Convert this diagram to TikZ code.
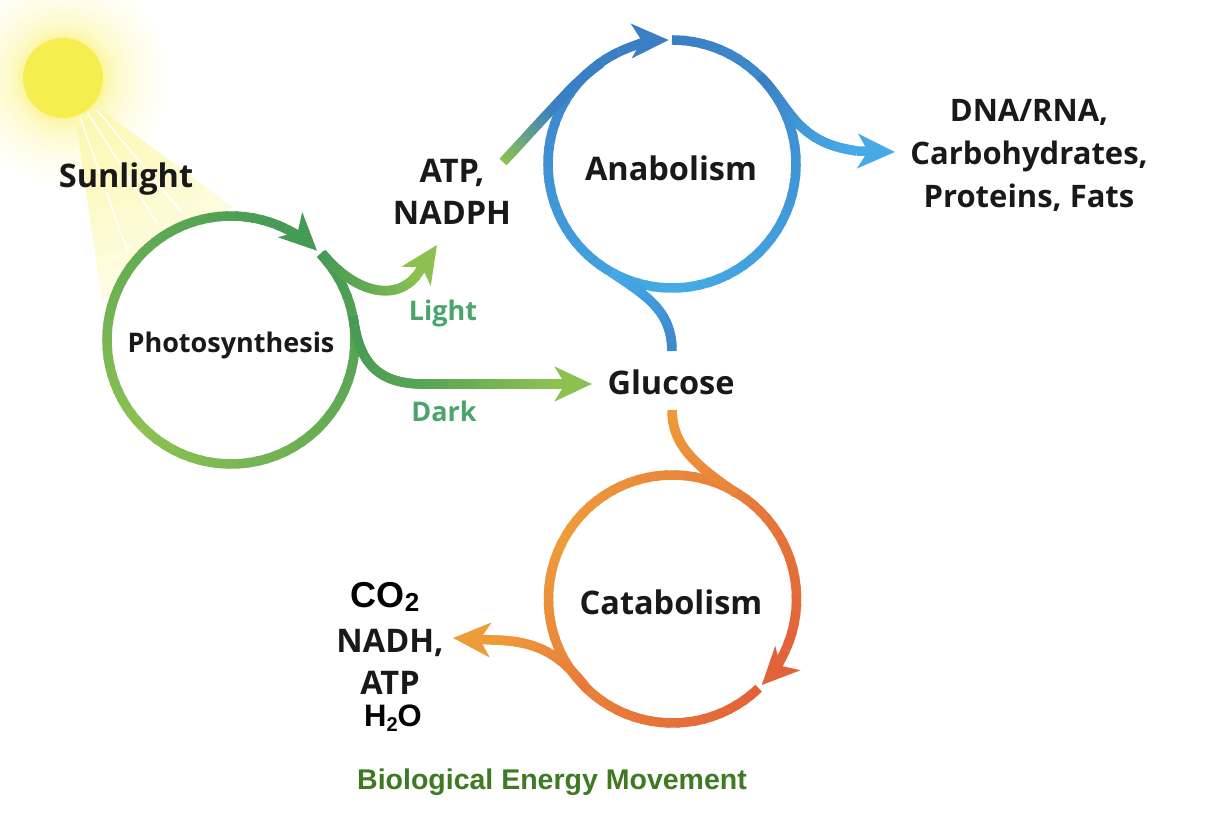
\documentclass[tikz,border=0pt]{standalone}
\usepackage{fontspec}
\usetikzlibrary{arrows.meta}
\newfontfamily\labelfont{Open Sans}
\newfontfamily\arialfont{Liberation Sans}

\definecolor{pdark}{HTML}{459A55}
\definecolor{plight}{HTML}{8CC152}
\definecolor{adark}{HTML}{3A7FC4}
\definecolor{alight}{HTML}{45AAE6}
\definecolor{cdark}{HTML}{E2623A}
\definecolor{clight}{HTML}{EE9B3A}
\definecolor{sunyellow}{HTML}{F6EE4E}
\definecolor{sunglow}{HTML}{FBF6A0}
\definecolor{fanyellow}{HTML}{FCF8B0}
\definecolor{lightgreen}{HTML}{4AA56A}
\definecolor{titlegreen}{HTML}{3F7A23}

\pgfdeclareradialshading{glowshade}{\pgfpointorigin}{color(0bp)=(sunglow); color(9bp)=(sunglow); color(12bp)=(fanyellow!70!white); color(18bp)=(fanyellow!25!white); color(25bp)=(white)}
\pgfdeclareradialshading{fanshade}{\pgfpointorigin}{color(0bp)=(fanyellow); color(4bp)=(fanyellow); color(25bp)=(fanyellow!8!white)}

\tikzset{
  ringnode/.style={circle,fill=white,inner sep=0pt,minimum size=248pt},
  ringline/.style={line width=9.5pt,line cap=butt,line join=round},
  headtip/.style={-{Stealth[length=37pt,width=34pt,inset=10pt]}},
  biglabel/.style={font=\labelfont\bfseries\fontsize{32.5}{42}\selectfont,text=black!90,align=center,inner sep=0pt},
  midlabel/.style={font=\labelfont\bfseries\fontsize{27}{27}\selectfont,text=black!90,inner sep=0pt},
  sidelabel/.style={font=\labelfont\bfseries\fontsize{27}{27}\selectfont,text=lightgreen,inner sep=0pt},
  arialbold/.style={font=\arialfont\bfseries\fontsize{36}{36}\selectfont,text=black,inner sep=0pt}
}

\newcommand{\gradring}[5]{
  \foreach \i in {0,...,39}{
    \pgfmathsetmacro\angA{#2+(#3-(#2))*\i/40}
    \pgfmathsetmacro\angB{#2+(#3-(#2))*min(\i+1.3,40)/40}
    \pgfmathsetmacro\mixp{100*\i/39}
    \draw[ringline,color={#5!\mixp!#4}] ([shift={(\angA:124)}]#1.center) arc[start angle=\angA,end angle=\angB,radius=124pt];
  }
}
\newcommand{\gradcurve}[6]{
  \path (#1) .. controls (#2) and (#3) .. (#4)
    \foreach \tpos in {0,...,30}{ coordinate[pos=\tpos/30] (cv\tpos) };
  \foreach \i in {0,...,29}{
    \pgfmathtruncatemacro\j{min(\i+2,30)}
    \pgfmathsetmacro\mixp{100*\i/29}
    \draw[ringline,color={#6!\mixp!#5}] (cv\i) -- (cv\j);
  }
}

\begin{document}
\begin{tikzpicture}[x=1pt,y=1pt]

  \useasboundingbox (0,0) rectangle (1218,826);
  \clip (0,0) rectangle (1218,826);

  \coordinate (suncentre) at (63,748);
  \shade[shading=glowshade] (suncentre) circle (110);
  \begin{scope}
    \clip (75,709) -- (102,526) -- (233,619) -- (97,719) -- cycle;
    \shade[shading=fanshade] (suncentre) circle (290);
  \end{scope}
  \foreach \xa/\ya/\xb/\yb in {80/709/128/573,88/713/157/603,97/716/182/613}{
    \draw[white,line width=1.5pt] (\xa,\ya) -- (\xb,\yb);
  }
  \node[circle,fill=sunyellow,inner sep=0pt,minimum size=80pt] (sun) at (suncentre) {};

  \node[ringnode] (photosyn) at (231,486) {};
  \node[ringnode] (anabol) at (672,662) {};
  \node[ringnode] (catabol) at (672.5,227) {};

  \coordinate (lightstart) at (322,573);
  \coordinate (lightbase) at (417,551);
  \coordinate (lighttip) at (437,581);
  \coordinate (darkstart) at (353,510);
  \coordinate (darkbend) at (420,442);
  \coordinate (darkbase) at (554,442);
  \coordinate (darktip) at (592,442);
  \coordinate (atpstart) at (503,664);
  \coordinate (atpblue) at (553,718);
  \coordinate (atpjoin) at (601,763);
  \coordinate (outstart) at (760,750);
  \coordinate (outbase) at (857,675);
  \coordinate (outtip) at (895,674);
  \coordinate (glucup) at (672,475);
  \coordinate (glucupjoin) at (611,554);
  \coordinate (glucdown) at (672,416);
  \coordinate (glucdownjoin) at (736,333);
  \coordinate (wastestart) at (588,136);
  \coordinate (wastebase) at (491,186);
  \coordinate (wastetip) at (453,188);

  \gradring{photosyn}{44}{-135}{pdark}{plight}
  \gradring{photosyn}{225}{64}{plight}{pdark}
  \draw[ringline,headtip,color=pdark] ([shift={(64:124)}]photosyn.center) arc[start angle=64,end angle=46,radius=124pt];

  \gradcurve{lightstart}{352,535}{395,522}{lightbase}{pdark}{plight}
  \draw[ringline,headtip,color=plight] (lightbase) -- (lighttip);
  \gradcurve{darkstart}{358,470}{372,443}{darkbend}{pdark}{pdark!75!plight}
  \gradcurve{darkbend}{465,442}{510,442}{darkbase}{pdark!75!plight}{plight}
  \draw[ringline,headtip,color=plight] (darkbase) -- (darktip);

  \gradring{anabol}{90}{-90}{adark}{alight}
  \gradring{anabol}{270}{115}{alight}{adark}
  \draw[ringline,headtip,color=adark] ([shift={(115:124)}]anabol.center) arc[start angle=115,end angle=91.5,radius=124pt];

  \gradcurve{atpstart}{520,682}{536,700}{atpblue}{plight}{adark}
  \gradcurve{atpblue}{566,732}{580,748}{atpjoin}{adark}{adark}
  \gradcurve{outstart}{790,720}{795,683}{outbase}{adark}{alight}
  \draw[ringline,headtip,color=alight] (outbase) -- (outtip);
  \gradcurve{glucup}{672,516}{645,531}{glucupjoin}{adark!80!alight}{alight}

  \gradring{catabol}{-46}{-210}{cdark}{clight}
  \gradring{catabol}{150}{-24}{clight}{cdark}
  \draw[ringline,headtip,color=cdark] ([shift={(-24:124)}]catabol.center) arc[start angle=-24,end angle=-44,radius=124pt];

  \gradcurve{glucdown}{672,381}{695,361}{glucdownjoin}{clight}{clight!60!cdark}
  \gradcurve{wastestart}{565,165}{545,186}{wastebase}{cdark!60!clight}{clight}
  \draw[ringline,headtip,color=clight] (wastebase) -- (wastetip);

  \node[biglabel] (sunlight) at (126,647) {Sunlight};
  \node[midlabel] (photolabel) at (231,481) {Photosynthesis};
  \node[biglabel] (atplabel) at (452,634) {ATP,\\NADPH};
  \node[sidelabel] (lightlabel) at (443,513) {Light};
  \node[sidelabel] (darklabel) at (444,415) {Dark};
  \node[biglabel] (glucose) at (671,444) {Glucose};
  \node[biglabel] (anabollabel) at (671,658) {Anabolism};
  \node[biglabel,font=\labelfont\bfseries\fontsize{31}{43}\selectfont] (products) at (1029,671) {DNA/RNA,\\Carbohydrates,\\Proteins, Fats};
  \node[biglabel] (catabollabel) at (671,224) {Catabolism};
  \node[arialbold] (co2label) at (385,229) {CO\raisebox{-0.2ex}{\fontsize{26}{26}\selectfont 2}};
  \node[biglabel] (nadhlabel) at (390,164) {NADH,\\ATP};
  \node[arialbold,font=\arialfont\bfseries\fontsize{31}{31}\selectfont] (h2olabel) at (393,108) {H\raisebox{-0.3ex}{\fontsize{20}{20}\selectfont 2}O};
  \node[font=\arialfont\bfseries\fontsize{28.5}{28.5}\selectfont,text=titlegreen,inner sep=0pt] (title) at (552,44) {Biological Energy Movement};

\end{tikzpicture}
\end{document}
